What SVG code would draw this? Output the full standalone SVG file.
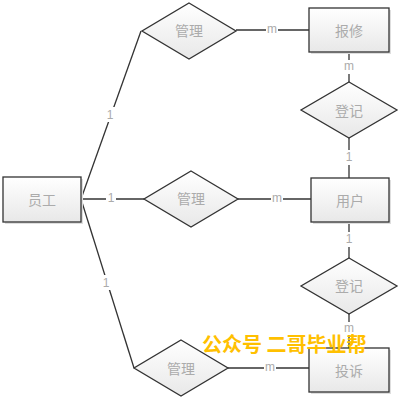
<svg xmlns="http://www.w3.org/2000/svg" width="401" height="402" viewBox="0 0 401 402">
<defs>
<linearGradient id="g" x1="0" y1="0" x2="0" y2="1">
<stop offset="0" stop-color="#ffffff"/>
<stop offset="1" stop-color="#e8e8e8"/>
</linearGradient>
<style>
.box{fill:url(#g);stroke:#333;stroke-width:1.3}
.sh{fill:#dedede}
.t{font-family:"Noto Sans CJK SC","Liberation Sans",sans-serif;font-size:14px;fill:#ababab;text-anchor:middle;dominant-baseline:central}
.l{font-family:"Liberation Sans","DejaVu Sans",sans-serif;font-size:12px;fill:#ababab;text-anchor:middle;dominant-baseline:central}
.c line{stroke:#333;stroke-width:1.3}
.lb{fill:#fff}
.wm{font-family:"Noto Sans CJK SC",sans-serif;font-size:20px;font-weight:bold;fill:#ffc000}
</style>
</defs>
<rect width="401" height="402" fill="#fff"/>
<g class="c" id="connectors">
<line x1="81" y1="199" x2="141" y2="31"/>
<line x1="81" y1="199" x2="144" y2="199"/>
<line x1="81" y1="199" x2="134" y2="368"/>
<line x1="236" y1="30" x2="309" y2="30"/>
<line x1="238" y1="199" x2="311" y2="199"/>
<line x1="228" y1="368" x2="309" y2="368"/>
<line x1="349" y1="52" x2="349" y2="82"/>
<line x1="349" y1="138" x2="349" y2="178"/>
<line x1="349" y1="222" x2="349" y2="258"/>
<line x1="349" y1="314" x2="349" y2="348"/>
<rect class="lb" x="105" y="107" width="10" height="15"/>
<text class="l" x="110" y="115">1</text>
<rect class="lb" x="106" y="192" width="10" height="13"/>
<text class="l" x="111" y="198">1</text>
<rect class="lb" x="101" y="275" width="10" height="15"/>
<text class="l" x="106" y="283">1</text>
<rect class="lb" x="266" y="24" width="12" height="12"/>
<text class="l" x="272" y="29">m</text>
<rect class="lb" x="271" y="193" width="12" height="12"/>
<text class="l" x="277" y="198">m</text>
<rect class="lb" x="264" y="362" width="12" height="12"/>
<text class="l" x="270" y="367">m</text>
<rect class="lb" x="343" y="60" width="12" height="14"/>
<text class="l" x="349" y="66">m</text>
<rect class="lb" x="344" y="150" width="10" height="15"/>
<text class="l" x="349" y="157">1</text>
<rect class="lb" x="344" y="232" width="10" height="15"/>
<text class="l" x="349" y="239">1</text>
<rect class="lb" x="343" y="322" width="12" height="13"/>
<text class="l" x="349" y="328">m</text>
</g>
<g id="yuangong">
<rect class="sh" x="5" y="179" width="78" height="45"/>
<rect class="box" x="3" y="177" width="78" height="45"/>
<text class="t" x="42" y="199">员工</text>
</g>
<g id="baoxiu">
<rect class="sh" x="311" y="10" width="80" height="44"/>
<rect class="box" x="309" y="8" width="80" height="44"/>
<text class="t" x="349" y="30">报修</text>
</g>
<g id="yonghu">
<rect class="sh" x="313" y="180" width="78" height="44"/>
<rect class="box" x="311" y="178" width="78" height="44"/>
<text class="t" x="350" y="200">用户</text>
</g>
<g id="tousu">
<rect class="sh" x="311" y="350" width="80" height="44"/>
<rect class="box" x="309" y="348" width="80" height="44"/>
<text class="t" x="349" y="370">投诉</text>
</g>
<g id="guanli1">
<polygon class="box" points="189,3 236,31 189,59 142,31"/>
<text class="t" x="189" y="30">管理</text>
</g>
<g id="guanli2">
<polygon class="box" points="191,171 238,199 191,227 144,199"/>
<text class="t" x="191" y="198">管理</text>
</g>
<g id="guanli3">
<polygon class="box" points="181,340 228,368 181,396 134,368"/>
<text class="t" x="181" y="368">管理</text>
</g>
<g id="dengji1">
<polygon class="box" points="349,82 397,110 349,138 301,110"/>
<text class="t" x="349" y="110">登记</text>
</g>
<g id="dengji2">
<polygon class="box" points="349,258 397,286 349,314 301,286"/>
<text class="t" x="349" y="285">登记</text>
</g>
<text class="wm" x="202" y="352">公众号 二哥毕业帮</text>
</svg>
